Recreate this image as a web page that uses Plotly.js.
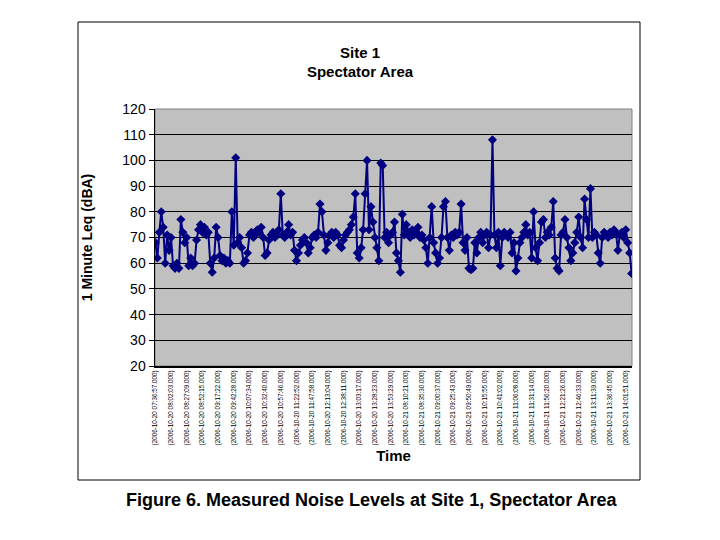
<!DOCTYPE html>
<html>
<head>
<meta charset="utf-8">
<script src="https://cdn.plot.ly/plotly-3.0.1.min.js"></script>
<style>html,body{margin:0;padding:0;background:#fff;}#chart{width:720px;height:540px;}</style>
</head>
<body>
<div id="chart"></div>
<script>
var leqDay1 = [68,62,72,80,74,60,71,65,70,59,58,60,58,77,72,68,70,59,62,59,
  60,69,73,75,72,74,71,72,60,56.5,62,74,70,63,61,62,60,61,60,80,
  67,101,68,70,66,60,61,64,71,72,70,71,73,72,74,70,63,64,69,71,
  72,70,71,73,87,71,70,72,75,71,72,65,61,64,67,69,70,68,64,66,
  70,71,70,72,83,80,71,65,68,71,72,70,72,71,67,66,69,71,72,73,
  75,78,87,64,62,66,73,87,100,73,82,76,70,66,61,99,98,70,72,68,
  71,72];
var leqDay2 = [76,64,61,56.5,79,71,75,72,70,73,71,72,74,70,71,69,66,60,70,82,
  68,64,60,62,70,82,84,70,65,71,70,72,71,72,83,68,65,70,58,57.5,
  58,68,64,70,72,68,71,72,66,71,108,71,66,72,59,70,72,71,70,72,
  64,68,57,62,68,70,72,75,71,72,62,80,66,61,68,76,77,70,72,71,
  74,84,62,58,57,71,72,77,70,66,61,64,68,72,78,70,66,85,77,70,
  89,70,72,71,64,60,70,72,71,70,72,71,73,72,65,71,72,70,73,68,
  64,56];
var tickLabels = [
  "(2006-10-20 07:36:57.000)","(2006-10-20 08:02:03.000)","(2006-10-20 08:27:09.000)",
  "(2006-10-20 08:52:15.000)","(2006-10-20 09:17:22.000)","(2006-10-20 09:42:28.000)",
  "(2006-10-20 10:07:34.000)","(2006-10-20 10:32:40.000)","(2006-10-20 10:57:46.000)",
  "(2006-10-20 11:22:52.000)","(2006-10-20 11:47:58.000)","(2006-10-20 12:13:04.000)",
  "(2006-10-20 12:38:11.000)","(2006-10-20 13:03:17.000)","(2006-10-20 13:28:23.000)",
  "(2006-10-20 13:53:29.000)","(2006-10-21 08:10:21.000)","(2006-10-21 08:35:30.000)",
  "(2006-10-21 09:00:37.000)","(2006-10-21 09:25:43.000)","(2006-10-21 09:50:49.000)",
  "(2006-10-21 10:15:55.000)","(2006-10-21 10:41:02.000)","(2006-10-21 11:06:08.000)",
  "(2006-10-21 11:31:14.000)","(2006-10-21 11:56:20.000)","(2006-10-21 12:21:26.000)",
  "(2006-10-21 12:46:33.000)","(2006-10-21 13:11:39.000)","(2006-10-21 13:36:45.000)",
  "(2006-10-21 14:01:51.000)"];
var labelEvery = 8;

var yVals = leqDay1.concat(leqDay2);
var xIdx = yVals.map(function(_, i){ return i; });
var tickVals = tickLabels.map(function(_, i){ return i * labelEvery; });

var FONT = "Liberation Sans, Arial, sans-serif";

var trace = {
  x: xIdx, y: yVals, type: "scatter", mode: "lines+markers",
  line: {color: "#000080", width: 2},
  marker: {symbol: "diamond", size: 7, color: "#000080"},
  hoverinfo: "y"
};

var layout = {
  width: 720, height: 540,
  paper_bgcolor: "#ffffff", plot_bgcolor: "#c0c0c0",
  margin: {l: 155, r: 88, t: 109, b: 174},
  showlegend: false,
  font: {family: FONT, color: "#000"},
  title: {text: "<b>Site 1</b><br><b>Spectator Area</b>", x: 0.5, xanchor: "center",
          y: 0.8926, yanchor: "middle", yref: "container",
          font: {family: FONT, size: 15, color: "#000"}},
  xaxis: {
    range: [-0.2, yVals.length - 0.8], tickmode: "array", tickvals: tickVals, ticktext: tickLabels,
    tickangle: -90, tickfont: {family: FONT, size: 6.3, color: "#000"},
    showgrid: false, zeroline: false, showline: true, linecolor: "#000", linewidth: 2,
    ticks: "", automargin: false,
    title: {text: "<b>Time</b>", font: {family: FONT, size: 15, color: "#000"}, standoff: 6}
  },
  yaxis: {
    range: [20, 120], dtick: 10, tick0: 20,
    showgrid: true, gridcolor: "#000", gridwidth: 1, zeroline: false,
    showline: true, linecolor: "#000", linewidth: 1.5,
    ticks: "outside", ticklen: 5, tickcolor: "#000",
    tickfont: {family: FONT, size: 14, color: "#000"}, automargin: false,
    title: {text: "<b>1 Minute Leq (dBA)</b>", font: {family: FONT, size: 14, color: "#000"}, standoff: 26}
  },
  shapes: [
    {type: "rect", xref: "paper", yref: "paper", x0: 0, x1: 1, y0: 0, y1: 1,
     line: {color: "#808080", width: 1}, layer: "below"},
    {type: "rect", xref: "paper", yref: "paper", x0: -0.1614, x1: 1.0168, y0: -0.4436, y1: 1.3385,
     line: {color: "#000", width: 1}}
  ],
  annotations: [
    {text: "<b>Figure 6. Measured Noise Levels at Site 1, Spectator Area</b>",
     xref: "paper", yref: "paper", x: 0.455, y: -0.5214, xanchor: "center", yanchor: "middle",
     showarrow: false, font: {family: FONT, size: 18, color: "#000"}}
  ]
};

Plotly.newPlot("chart", [trace], layout, {displayModeBar: false, staticPlot: true});
</script>
</body>
</html>
